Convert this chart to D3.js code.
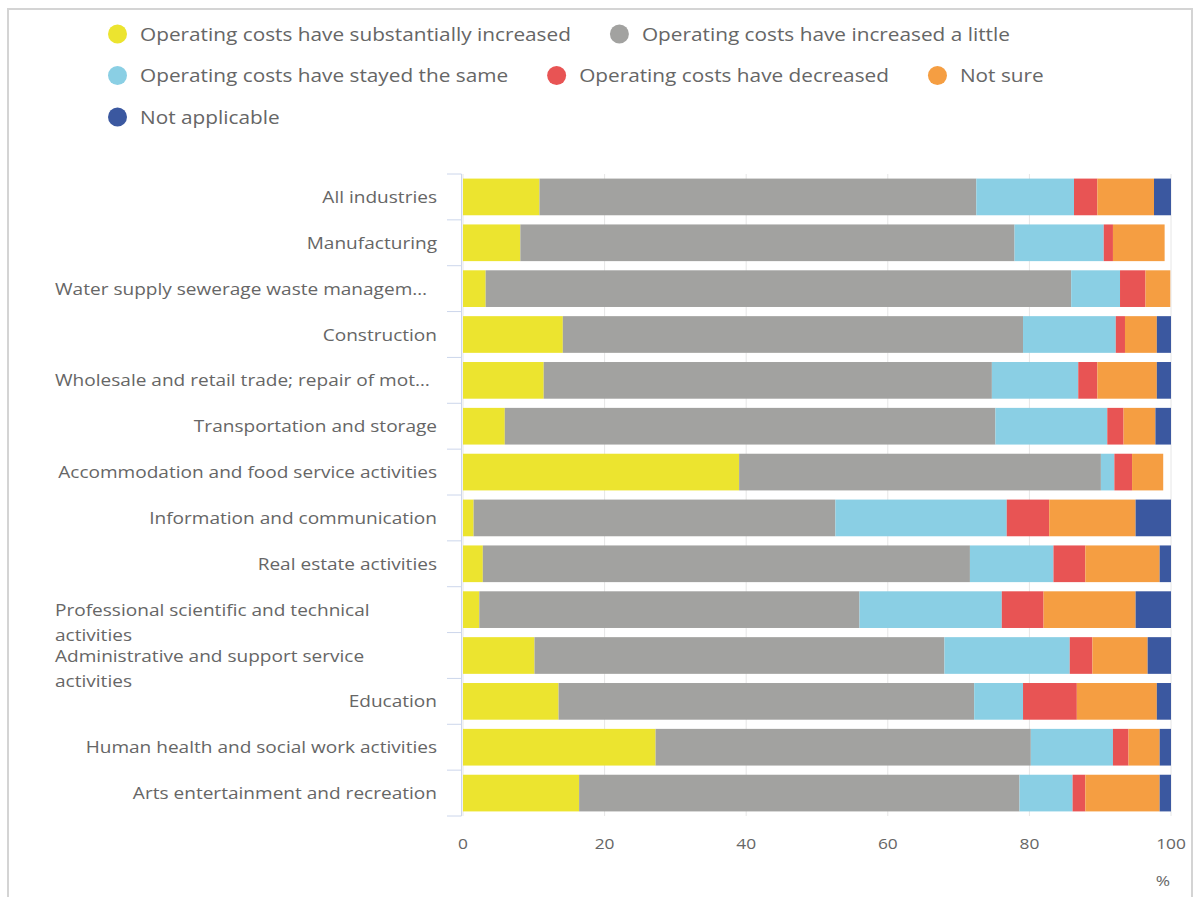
<!DOCTYPE html>
<html>
<head>
<meta charset="utf-8">
<script src="https://cdn.jsdelivr.net/npm/d3@7"></script>
<style>
  html, body { margin: 0; padding: 0; background: #fff; }
  svg { display: block; font-family: "Open Sans", "Noto Sans", sans-serif; }
</style>
</head>
<body>
<svg id="chart" width="1199" height="897"></svg>
<script>
// Industries, top to bottom ("\n" marks a wrapped label)
const categories = [
  "All industries",
  "Manufacturing",
  "Water supply sewerage waste managem…",
  "Construction",
  "Wholesale and retail trade; repair of mot…",
  "Transportation and storage",
  "Accommodation and food service activities",
  "Information and communication",
  "Real estate activities",
  "Professional scientific and technical\nactivities",
  "Administrative and support service\nactivities",
  "Education",
  "Human health and social work activities",
  "Arts entertainment and recreation"
];

const seriesNames = [
  "Operating costs have substantially increased",
  "Operating costs have increased a little",
  "Operating costs have stayed the same",
  "Operating costs have decreased",
  "Not sure",
  "Not applicable"
];

const seriesColors = ["#ece42f", "#a2a2a0", "#8acfe4", "#e85454", "#f59e42", "#3b58a0"];

// Percentage of businesses, one value per industry
const substantiallyIncreased = [10.8, 8.1, 3.2, 14.1, 11.4, 5.9, 39.0, 1.5, 2.8, 2.3, 10.1, 13.5, 27.2, 16.4];
const increasedALittle       = [61.7, 69.8, 82.7, 65.0, 63.3, 69.3, 51.1, 51.1, 68.8, 53.7, 57.9, 58.7, 53.0, 62.2];
const stayedTheSame          = [13.8, 12.6, 6.9, 13.1, 12.2, 15.8, 1.9, 24.2, 11.8, 20.1, 17.7, 6.9, 11.6, 7.5];
const decreased              = [3.3, 1.3, 3.6, 1.3, 2.7, 2.3, 2.5, 6.0, 4.5, 5.9, 3.2, 7.6, 2.2, 1.8];
const notSure                = [8.0, 7.3, 3.5, 4.5, 8.4, 4.5, 4.4, 12.2, 10.5, 13.0, 7.8, 11.3, 4.4, 10.5];
const notApplicable          = [2.4, 0, 0, 2.0, 2.0, 2.2, 0, 5.0, 1.6, 5.0, 3.3, 2.0, 1.6, 1.6];

const xTicks = [0, 20, 40, 60, 80, 100];
const xAxisTitle = "%";

const seriesValues = [substantiallyIncreased, increasedALittle, stayedTheSame, decreased, notSure, notApplicable];

// Table of rows for d3.stack
const rows = categories.map((c, i) => {
  const r = { category: c };
  seriesNames.forEach((s, j) => { r[s] = seriesValues[j][i]; });
  return r;
});

const svg = d3.select("#chart");
const plot = { left: 463, right: 1171, top: 174, bottom: 816 };
const textColor = "#666666";
const stretch = 1.155; // text is set slightly wide

// Text placed at (x, y) and widened horizontally about its anchor
function wideText(parent, x, y, str, size, anchor) {
  return parent.append("text")
    .attr("transform", `translate(${x},${y}) scale(${stretch},1)`)
    .attr("text-anchor", anchor || "start")
    .attr("fill", textColor)
    .attr("font-size", size)
    .text(str);
}

// Outer frame
svg.append("rect")
  .attr("x", 8).attr("y", 9)
  .attr("width", 1184).attr("height", 900)
  .attr("fill", "none").attr("stroke", "#d4d4d4").attr("stroke-width", 2);

const x = d3.scaleLinear().domain([0, 100]).range([plot.left, plot.right]);
const y = d3.scaleBand().domain(categories).range([plot.top, plot.bottom]).paddingInner(0.2).paddingOuter(0.1);

// Vertical grid lines
svg.append("g").selectAll("line").data(xTicks).join("line")
  .attr("x1", d => x(d)).attr("x2", d => x(d))
  .attr("y1", plot.top).attr("y2", plot.bottom)
  .attr("stroke", "#e6e6e6").attr("stroke-width", 1);

// Stacked bars
const stack = d3.stack().keys(seriesNames);
const layers = stack(rows);
const color = d3.scaleOrdinal().domain(seriesNames).range(seriesColors);

svg.append("g").selectAll("g").data(layers).join("g")
  .attr("fill", d => color(d.key))
  .selectAll("rect").data(d => d).join("rect")
  .attr("x", d => x(d[0]))
  .attr("y", d => y(d.data.category))
  .attr("width", d => Math.max(0, x(d[1]) - x(d[0])))
  .attr("height", y.bandwidth());

// Category axis: line, ticks at band boundaries, labels
const yAxisG = svg.append("g");
yAxisG.append("line")
  .attr("x1", plot.left - 1.5).attr("x2", plot.left - 1.5)
  .attr("y1", plot.top).attr("y2", plot.bottom)
  .attr("stroke", "#ccd6eb").attr("stroke-width", 1);
const boundaries = d3.range(categories.length + 1).map(i => plot.top + i * (plot.bottom - plot.top) / categories.length);
yAxisG.selectAll("line.tick").data(boundaries).join("line")
  .attr("class", "tick")
  .attr("x1", plot.left - 16).attr("x2", plot.left - 1.5)
  .attr("y1", d => d).attr("y2", d => d)
  .attr("stroke", "#ccd6eb").attr("stroke-width", 1);

const labelRight = 437, labelLeft = 55, labelSize = 16.5;
const labelG = svg.append("g");
categories.forEach(c => {
  const lines = c.split("\n");
  const cy = y(c) + y.bandwidth() / 2;
  const leftAligned = lines.length > 1 || c.includes("…");
  lines.forEach((ln, k) => {
    wideText(labelG, leftAligned ? labelLeft : labelRight, cy + 6 + k * 25, ln, labelSize,
      leftAligned ? "start" : "end");
  });
});

// Value axis labels
const xAxisG = svg.append("g");
xTicks.forEach(d => wideText(xAxisG, x(d), 849, String(d), 15, "middle"));
wideText(xAxisG, plot.right - 1, 886, xAxisTitle, 15, "end");

// Legend, wrapped into rows
const legend = svg.append("g");
const legendLeft = 108, legendMax = 1180, rowStep = 41.5, itemGap = 39;
let lx = legendLeft, ly = 34;
seriesNames.forEach((name, i) => {
  const g = legend.append("g");
  g.append("circle").attr("r", 9.5).attr("cx", 9.5).attr("cy", 0).attr("fill", seriesColors[i]);
  const t = wideText(g, 32, 6.5, name, 18, "start");
  const w = 32 + t.node().getComputedTextLength() * stretch;
  if (lx > legendLeft && lx + w > legendMax) { lx = legendLeft; ly += rowStep; }
  g.attr("transform", `translate(${lx},${ly})`);
  lx += w + itemGap;
});
</script>
</body>
</html>
